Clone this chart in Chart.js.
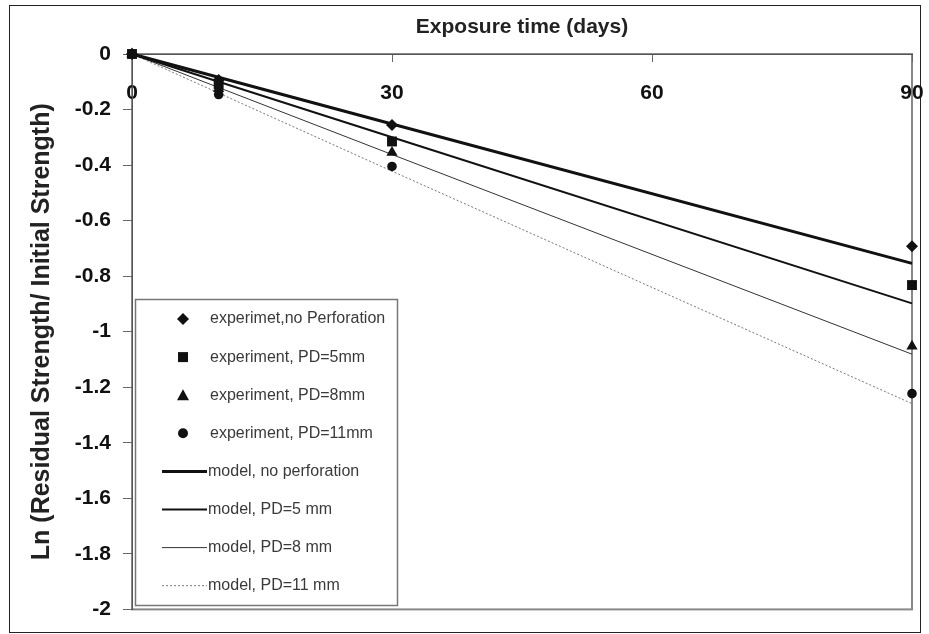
<!DOCTYPE html>
<html>
<head>
<meta charset="utf-8">
<title>Exposure time</title>
<script src="https://cdn.jsdelivr.net/npm/chart.js@4.4.0/dist/chart.umd.min.js"></script>
<style>
html, body { margin: 0; padding: 0; background: #fff; }
canvas { display: block; }
</style>
</head>
<body>
<canvas id="chart_area" width="929" height="634"></canvas>
<script>
'use strict';

var FONT = '"Liberation Sans", Arial, sans-serif';

// Exposure times (days) of the tests and of the model curves
var days = [0, 10, 30, 90];
var modelDays = [0, 30, 90];

// Axis ticks
var xTicks = [0, 30, 60, 90];
var yTicks = [0, -0.2, -0.4, -0.6, -0.8, -1, -1.2, -1.4, -1.6, -1.8, -2];

// Measured Ln(residual / initial strength)
var expNoPerf = [0, -0.094, -0.256, -0.692];
var expPD5    = [0, -0.110, -0.315, -0.832];
var expPD8    = [0, -0.125, -0.355, -1.052];
var expPD11   = [0, -0.146, -0.405, -1.223];

// Model predictions
var modelNoPerf = [0, -0.252, -0.754];
var modelPD5    = [0, -0.300, -0.898];
var modelPD8    = [0, -0.362, -1.081];
var modelPD11   = [0, -0.422, -1.259];

var seriesLabels = [
    'experimet,no Perforation',
    'experiment, PD=5mm',
    'experiment, PD=8mm',
    'experiment, PD=11mm',
    'model, no perforation',
    'model, PD=5 mm',
    'model, PD=8 mm',
    'model, PD=11 mm'
];

function toXY(xs, ys){
    return xs.map(function(x, i){ return {x: x, y: ys[i]}; });
}

function expSet(label, ys, style, radius){
    return {
        label: label,
        data: toXY(days, ys),
        showLine: false,
        pointStyle: style,
        pointRadius: radius,
        pointBackgroundColor: '#111',
        pointBorderColor: '#111',
        pointBorderWidth: 0,
        clip: false
    };
}

function modelSet(label, ys, width, color, dash){
    return {
        label: label,
        data: toXY(modelDays, ys),
        showLine: true,
        borderColor: color,
        borderWidth: width,
        borderDash: dash,
        pointRadius: 0,
        tension: 0,
        clip: false
    };
}

var datasets = [
    expSet(seriesLabels[0], expNoPerf, 'rectRot', 6),
    expSet(seriesLabels[1], expPD5, 'rect', 7),
    expSet(seriesLabels[2], expPD8, 'triangle', 6.5),
    expSet(seriesLabels[3], expPD11, 'circle', 4.8),
    modelSet(seriesLabels[4], modelNoPerf, 3, '#111', []),
    modelSet(seriesLabels[5], modelPD5, 2, '#111', []),
    modelSet(seriesLabels[6], modelPD8, 1, '#333', []),
    modelSet(seriesLabels[7], modelPD11, 1, '#777', [2, 2])
];

// Outer frame and the grey plot-area frame
var framePlugin = {
    id: 'frame',
    beforeDraw: function(chart){
        var ctx = chart.ctx, a = chart.chartArea;
        ctx.save();
        ctx.fillStyle = '#fff';
        ctx.fillRect(0, 0, chart.width, chart.height);
        ctx.strokeStyle = '#222';
        ctx.lineWidth = 1;
        ctx.strokeRect(9.5, 5.5, 911, 627);
        ctx.strokeStyle = '#888';
        ctx.lineWidth = 2;
        ctx.strokeRect(a.left, a.top, a.right - a.left, a.bottom - a.top);
        ctx.restore();
    }
};

function drawMarker(ctx, style, x, y){
    ctx.beginPath();
    if(style == 'rectRot'){
        ctx.moveTo(x, y - 6); ctx.lineTo(x + 6, y); ctx.lineTo(x, y + 6); ctx.lineTo(x - 6, y);
    }else if(style == 'rect'){
        ctx.rect(x - 5, y - 5, 10, 10);
    }else if(style == 'triangle'){
        ctx.moveTo(x, y - 6); ctx.lineTo(x + 6, y + 5); ctx.lineTo(x - 6, y + 5);
    }else{
        ctx.arc(x, y, 5, 0, Math.PI * 2);
    }
    ctx.closePath();
    ctx.fill();
}

// Boxed legend in the lower left of the plot
var boxLegend = {
    id: 'boxLegend',
    afterDraw: function(chart){
        var ctx = chart.ctx;
        var bx = 135, by = 299, bw = 262, bh = 306;
        var rowY = 319, rowStep = 38.1;
        ctx.save();
        ctx.fillStyle = '#fff';
        ctx.fillRect(bx, by, bw, bh);
        ctx.strokeStyle = '#777';
        ctx.lineWidth = 1.5;
        ctx.strokeRect(bx + 0.5, by + 0.5, bw, bh);
        ctx.font = '16px ' + FONT;
        ctx.textBaseline = 'middle';
        chart.data.datasets.forEach(function(ds, i){
            var y = rowY + i * rowStep;
            var tx;
            if(!ds.showLine){
                ctx.fillStyle = '#111';
                drawMarker(ctx, ds.pointStyle, 183, y);
                tx = 210;
            }else{
                ctx.strokeStyle = ds.borderColor;
                ctx.lineWidth = ds.borderWidth;
                ctx.setLineDash(ds.borderDash);
                ctx.beginPath();
                ctx.moveTo(162, y);
                ctx.lineTo(207, y);
                ctx.stroke();
                ctx.setLineDash([]);
                tx = 208;
            }
            ctx.fillStyle = '#3a3a3a';
            ctx.fillText(ds.label, tx, y);
        });
        ctx.restore();
    }
};

var config = {
    type: 'scatter',
    data: { datasets: datasets },
    options: {
        responsive: false,
        animation: false,
        layout: { padding: { left: 0, top: 0, right: 17, bottom: 24 } },
        plugins: {
            legend: { display: false },
            tooltip: { enabled: false }
        },
        scales: {
            x: {
                type: 'linear',
                position: 'top',
                min: 0,
                max: 90,
                afterBuildTicks: function(s){ s.ticks = xTicks.map(function(v){ return {value: v}; }); },
                afterFit: function(s){ s.height = 54; s.paddingLeft = 0; s.paddingRight = 0; },
                grid: { drawOnChartArea: false, drawTicks: true, tickLength: -8, color: '#666', lineWidth: 1 },
                border: { color: '#555', width: 1 },
                ticks: {
                    mirror: true,
                    padding: 27,
                    autoSkip: false,
                    maxRotation: 0,
                    color: '#111',
                    font: { family: FONT, size: 21, weight: 'bold' },
                    callback: function(v){ return String(v); }
                },
                title: {
                    display: true,
                    text: 'Exposure time (days)',
                    color: '#222',
                    padding: { top: 15, bottom: 0 },
                    font: { family: FONT, size: 21, weight: 'bold' }
                }
            },
            y: {
                type: 'linear',
                min: -2,
                max: 0,
                afterBuildTicks: function(s){ s.ticks = yTicks.map(function(v){ return {value: v}; }); },
                afterFit: function(s){ s.width = 132; },
                grid: { drawOnChartArea: false, drawTicks: true, tickLength: 9, color: '#666', lineWidth: 1 },
                border: { color: '#555', width: 1 },
                ticks: {
                    padding: 12,
                    color: '#111',
                    font: { family: FONT, size: 21, weight: 'bold' },
                    callback: function(v){ return String(v); }
                },
                title: {
                    display: true,
                    text: 'Ln (Residual Strength/ Initial Strength)',
                    color: '#222',
                    padding: { top: 27, bottom: 0 },
                    font: { family: FONT, size: 25, weight: 'bold' }
                }
            }
        }
    },
    plugins: [framePlugin, boxLegend]
};

var ctx = document.getElementById('chart_area').getContext('2d');
window.myLine = new Chart(ctx, config);
</script>
</body>
</html>
